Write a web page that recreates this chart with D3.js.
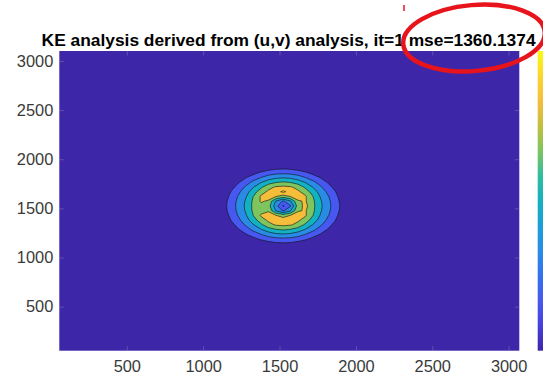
<!DOCTYPE html>
<html>
<head>
<meta charset="utf-8">
<script src="https://cdn.jsdelivr.net/npm/d3@7"></script>
<style>
  body { margin: 0; background: #fff; }
  svg { display: block; font-family: "Liberation Sans", Arial, sans-serif; }
</style>
</head>
<body>
<div id="vis1"></div>
<script>
// axis extents and ticks
const xDomain = [58, 3070];
const yDomain = [52, 3101];
const xTicks = [500, 1000, 1500, 2000, 2500, 3000];
const yTicks = [500, 1000, 1500, 2000, 2500, 3000];

const titleText = "KE analysis derived from (u,v) analysis, it=1 mse=1360.1374";

// KE around the eddy on a 48-unit grid (in contour-level units),
// rows go from top (north) to bottom, columns west to east
const gridX0 = 1140;
const gridYTop = 1909;
const gridStep = 48;
const levels = [1, 2, 3, 4, 5, 6];
const ke = [
  [0,0,0,0,0,0.23,0.56,0.77,0.84,0.77,0.56,0.23,0,0,0,0,0],
  [0,0,0,0.16,0.75,1.20,1.52,1.72,1.79,1.72,1.52,1.20,0.75,0.16,0,0,0],
  [0,0,0.29,1.01,1.54,2.03,2.50,2.82,2.93,2.82,2.50,2.03,1.54,1.01,0.29,0,0],
  [0,0.15,0.99,1.63,2.29,2.96,3.55,3.95,4.12,3.95,3.55,2.96,2.29,1.63,0.99,0.15,0],
  [0,0.72,1.48,2.21,3.00,3.82,4.69,5.10,5.22,5.10,4.69,3.82,3.00,2.21,1.48,0.72,0],
  [0.21,1.14,1.87,2.69,3.59,4.60,5.19,5.62,6.20,5.62,5.19,4.60,3.59,2.69,1.87,1.14,0.21],
  [0.51,1.39,2.17,3.00,4.09,5.15,5.53,5.02,4.50,5.02,5.53,5.15,4.09,3.00,2.17,1.39,0.51],
  [0.70,1.54,2.33,3.20,4.27,5.13,4.84,2.90,1.84,2.90,4.84,5.13,4.27,3.20,2.33,1.54,0.70],
  [0.77,1.60,2.39,3.29,4.32,4.70,4.46,2.40,0.88,1.90,4.46,5.32,4.32,3.29,2.39,1.60,0.77],
  [0.70,1.54,2.33,3.20,4.27,4.60,4.84,2.90,1.84,2.90,4.84,5.13,4.27,3.20,2.33,1.54,0.70],
  [0.51,1.39,2.17,3.00,4.09,5.15,5.53,5.02,4.50,5.02,5.53,5.15,4.09,3.00,2.17,1.39,0.51],
  [0.21,1.14,1.87,2.69,3.59,4.60,5.19,5.62,5.61,5.62,5.19,4.60,3.59,2.69,1.87,1.14,0.21],
  [0,0.72,1.48,2.21,3.00,3.82,4.69,5.10,5.22,5.10,4.69,3.82,3.00,2.21,1.48,0.72,0],
  [0,0.15,0.99,1.63,2.29,2.96,3.55,3.95,4.12,3.95,3.55,2.96,2.29,1.63,0.99,0.15,0],
  [0,0,0.29,1.01,1.54,2.03,2.50,2.82,2.93,2.82,2.50,2.03,1.54,1.01,0.29,0,0],
  [0,0,0,0.16,0.75,1.20,1.52,1.72,1.79,1.72,1.52,1.20,0.75,0.16,0,0,0],
  [0,0,0,0,0,0.23,0.56,0.77,0.84,0.77,0.56,0.23,0,0,0,0,0]
];

// parula colormap
const parulaStops = [0, 0.1, 0.167, 0.25, 0.333, 0.42, 0.5, 0.583, 0.667, 0.75, 0.833, 0.917, 1];
const parulaColors = ["#3e26a8", "#4744e7", "#4658ef", "#3470f2", "#2a8be5", "#1aa0d8", "#12b2c2",
                      "#2fbd9f", "#7ec45f", "#c2c03e", "#f6bd3b", "#fcd62e", "#f9fb0e"];

const width = 543, height = 377;
const plot = { left: 59.3, right: 519.3, top: 51, bottom: 350.7 };

const svg = d3.select("#vis1")
  .append("svg")
    .attr("width", width)
    .attr("height", height);

const x = d3.scaleLinear().domain(xDomain).range([plot.left, plot.right]);
const y = d3.scaleLinear().domain(yDomain).range([plot.bottom, plot.top]);
const parula = d3.scaleLinear().domain(parulaStops).range(parulaColors).clamp(true);

svg.append("clipPath").attr("id", "clip")
  .append("rect")
    .attr("x", plot.left).attr("y", plot.top)
    .attr("width", plot.right - plot.left).attr("height", plot.bottom - plot.top);

// background = lowest band
svg.append("rect")
  .attr("x", plot.left).attr("y", plot.top)
  .attr("width", plot.right - plot.left).attr("height", plot.bottom - plot.top)
  .attr("fill", parula(0));

// filled contours
const nx = ke[0].length, ny = ke.length;
const contours = d3.contours().size([nx, ny]).thresholds(levels)(ke.flat());
const toChart = d3.geoTransform({
  point: function(px, py) {
    this.stream.point(x(gridX0 + (px - 0.5) * gridStep), y(gridYTop - (py - 0.5) * gridStep));
  }
});
const path = d3.geoPath(toChart);

svg.append("g")
    .attr("clip-path", "url(#clip)")
  .selectAll("path")
  .data(contours)
  .join("path")
    .attr("d", path)
    .attr("fill", d => parula(d.value / levels[levels.length - 1]))
    .attr("stroke", "#111")
    .attr("stroke-width", 0.6)
    .attr("stroke-linejoin", "round");

// axes, ticks pointing inward
const tickColor = "#9a9ab8";
const fmt = d3.format("d");
function styleAxis(g) {
  g.select(".domain").remove();
  g.selectAll(".tick line").attr("stroke", tickColor).attr("stroke-width", 0.6).attr("opacity", 0.6);
  g.selectAll(".tick text").attr("fill", "#3a3a3a").style("font-size", "16.4px");
}

svg.append("g")
  .attr("transform", `translate(0,${plot.bottom})`)
  .call(d3.axisBottom(x).tickValues(xTicks).tickFormat(fmt).tickSizeInner(-4.5).tickSizeOuter(0).tickPadding(10))
  .call(styleAxis);

svg.append("g")
  .attr("transform", `translate(${plot.left},0)`)
  .call(d3.axisLeft(y).tickValues(yTicks).tickFormat(fmt).tickSizeInner(-4.5).tickSizeOuter(0).tickPadding(6))
  .call(styleAxis);

svg.append("g")
  .attr("transform", `translate(0,${plot.top})`)
  .call(d3.axisTop(x).tickValues(xTicks).tickSizeInner(-4.5).tickSizeOuter(0).tickFormat(""))
  .call(styleAxis);

svg.append("g")
  .attr("transform", `translate(${plot.right},0)`)
  .call(d3.axisRight(y).tickValues(yTicks).tickSizeInner(-4.5).tickSizeOuter(0).tickFormat(""))
  .call(styleAxis);

// colorbar (cut by the right edge of the picture)
const grad = svg.append("defs").append("linearGradient")
  .attr("id", "cbar").attr("x1", 0).attr("y1", 1).attr("x2", 0).attr("y2", 0);
grad.selectAll("stop")
  .data(parulaStops)
  .join("stop")
    .attr("offset", d => d)
    .attr("stop-color", (d, i) => parulaColors[i]);

svg.append("rect")
  .attr("x", 537.7).attr("y", plot.top)
  .attr("width", 14).attr("height", plot.bottom - plot.top)
  .attr("fill", "url(#cbar)");

// title
svg.append("text")
  .attr("x", 288.6).attr("y", 45.5)
  .attr("text-anchor", "middle")
  .attr("font-weight", "bold")
  .attr("font-size", 17)
  .attr("textLength", 494)
  .attr("lengthAdjust", "spacingAndGlyphs")
  .attr("fill", "#000")
  .text(titleText);

// hand-drawn red annotation
svg.append("ellipse")
  .attr("cx", 474).attr("cy", 38)
  .attr("rx", 71).attr("ry", 33)
  .attr("transform", "rotate(-5,474,38)")
  .attr("fill", "none")
  .attr("stroke", "#e8141c")
  .attr("stroke-width", 4.5);

svg.append("line")
  .attr("x1", 404).attr("x2", 404)
  .attr("y1", 5).attr("y2", 11)
  .attr("stroke", "#e8141c")
  .attr("stroke-width", 1.5);
</script>
</body>
</html>
